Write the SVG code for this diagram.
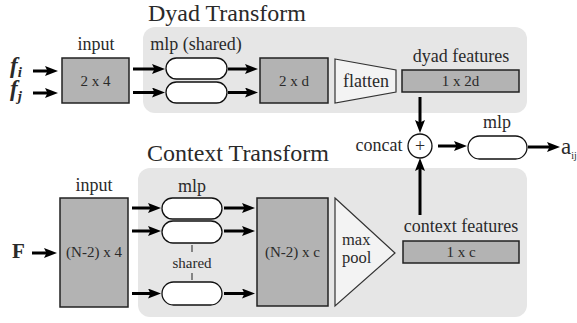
<svg xmlns="http://www.w3.org/2000/svg" width="577" height="323" viewBox="0 0 577 323">
<defs>
<marker id="ah" markerUnits="userSpaceOnUse" markerWidth="14" markerHeight="12" refX="7" refY="5" orient="auto">
<path d="M0,0 L13,5 L0,10 L2.5,5 z" fill="#000"/>
</marker>
<style>
text{font-family:"Liberation Serif","Times New Roman",serif;fill:#2a2a2a}
.t{font-size:24px}
.l{font-size:18px;text-anchor:middle}
.b{font-size:15px;text-anchor:middle}
.panel{fill:#e6e6e6}
.box{fill:#b3b3b3;stroke:#222;stroke-width:1.5}
.pill{fill:#fff;stroke:#111;stroke-width:1.3}
.light{fill:#f3f3f3;stroke:#333;stroke-width:1.2}
.arr{stroke:#000;stroke-width:3;fill:none;marker-end:url(#ah)}
.thin{stroke:#222;stroke-width:1}
</style>
</defs>
<rect width="577" height="323" fill="#fff"/>
<g id="dyad-panel">
<rect class="panel" x="143" y="27" width="384" height="86" rx="12"/>
<text class="t" x="148" y="21">Dyad Transform</text>
</g>
<g id="context-panel">
<rect class="panel" x="138" y="168" width="389" height="149" rx="12"/>
<text class="t" x="147" y="161">Context Transform</text>
</g>
<g id="fi">
<text x="10" y="73" style="font-size:23px;font-weight:bold;font-style:italic">f<tspan dy="4" style="font-size:15px">i</tspan></text>
</g>
<g id="fj">
<text x="10" y="96" style="font-size:23px;font-weight:bold;font-style:italic">f<tspan dy="5" style="font-size:15px">j</tspan></text>
</g>
<g id="dyad-input">
<text class="l" x="96" y="50">input</text>
<rect class="box" x="62" y="58" width="67" height="45"/>
<text class="b" x="95.5" y="86">2 x 4</text>
</g>
<g id="dyad-mlp">
<text class="l" x="196" y="50">mlp (shared)</text>
<rect class="pill" x="166" y="58" width="61" height="21" rx="10.5"/>
<rect class="pill" x="166" y="82" width="61" height="21" rx="10.5"/>
</g>
<g id="dyad-2xd">
<rect class="box" x="260" y="58" width="68" height="45"/>
<text class="b" x="294" y="86">2 x d</text>
</g>
<g id="flatten">
<path class="light" d="M335,59 L396,70 L396,92 L335,103 z"/>
<text class="l" x="366" y="87">flatten</text>
</g>
<g id="dyad-features">
<text class="l" x="461" y="62">dyad features</text>
<rect class="box" x="402" y="70" width="117" height="22"/>
<text class="b" x="460.5" y="86">1 x 2d</text>
</g>
<g id="concat">
<text class="l" x="379" y="151">concat</text>
<circle cx="420" cy="146" r="12" fill="#fff" stroke="#111" stroke-width="1.3"/>
<text class="l" x="420" y="152">+</text>
</g>
<g id="final-mlp">
<text class="l" x="497" y="128">mlp</text>
<rect class="pill" x="468" y="136" width="59" height="23" rx="11.5"/>
</g>
<g id="aij">
<text x="561" y="154" style="font-size:23px">a<tspan dy="5" style="font-size:10px">ij</tspan></text>
</g>
<g id="F">
<text x="12" y="258" style="font-size:21px;font-weight:bold">F</text>
</g>
<g id="context-input">
<text class="l" x="94" y="191">input</text>
<rect class="box" x="60" y="198" width="68" height="109"/>
<text class="b" x="94" y="257">(N-2) x 4</text>
</g>
<g id="context-mlp">
<text class="l" x="192" y="192">mlp</text>
<rect class="pill" x="162" y="198" width="60" height="21" rx="10.5"/>
<rect class="pill" x="162" y="221" width="60" height="22" rx="11"/>
<rect class="pill" x="162" y="282" width="60" height="23" rx="11.5"/>
<line class="thin" x1="192" y1="245" x2="192" y2="252"/>
<text class="b" x="192" y="268">shared</text>
<line class="thin" x1="192" y1="273" x2="192" y2="280"/>
</g>
<g id="context-nxc">
<rect class="box" x="257" y="198" width="71" height="108"/>
<text class="b" x="292.5" y="257">(N-2) x c</text>
</g>
<g id="maxpool">
<path class="light" d="M335,198 L395,253 L335,306 z"/>
<text x="342" y="245" style="font-size:16.5px">max</text>
<text x="342" y="263" style="font-size:16.5px">pool</text>
</g>
<g id="context-features">
<text class="l" x="461" y="232">context features</text>
<rect class="box" x="403" y="241" width="116" height="22"/>
<text class="b" x="461" y="257">1 x c</text>
</g>
<g id="connectors">
<line class="arr" x1="33" y1="71" x2="52" y2="71"/>
<line class="arr" x1="33" y1="93" x2="52" y2="93"/>
<line class="arr" x1="133" y1="69" x2="159" y2="69"/>
<line class="arr" x1="133" y1="92.5" x2="159" y2="92.5"/>
<line class="arr" x1="228" y1="69" x2="252" y2="69"/>
<line class="arr" x1="228" y1="92.5" x2="252" y2="92.5"/>
<line class="arr" x1="420" y1="97" x2="420" y2="127"/>
<line class="arr" x1="438" y1="146" x2="461" y2="146"/>
<line class="arr" x1="528" y1="147" x2="554" y2="147"/>
<line class="arr" x1="32" y1="253" x2="51" y2="253"/>
<line class="arr" x1="132" y1="208" x2="155" y2="208"/>
<line class="arr" x1="132" y1="231" x2="155" y2="231"/>
<line class="arr" x1="132" y1="293.5" x2="155" y2="293.5"/>
<line class="arr" x1="224" y1="208" x2="249" y2="208"/>
<line class="arr" x1="224" y1="231" x2="249" y2="231"/>
<line class="arr" x1="224" y1="293.5" x2="249" y2="293.5"/>
<line class="arr" x1="420" y1="215" x2="420" y2="164"/>
</g>
</svg>
